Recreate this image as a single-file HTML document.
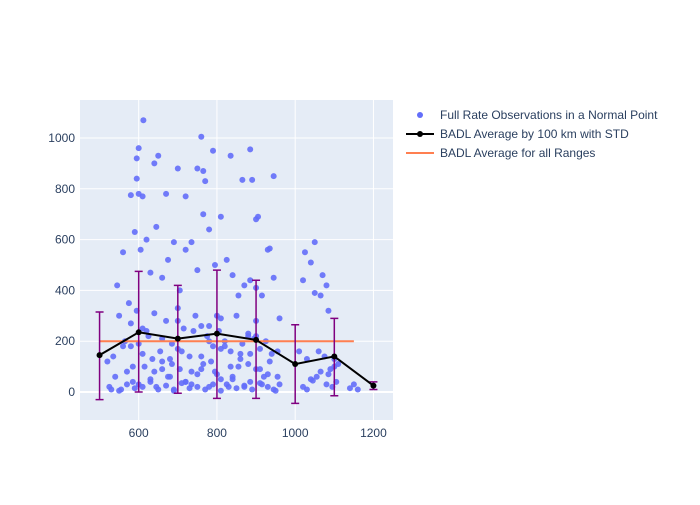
<!DOCTYPE html>
<html><head><meta charset="utf-8"><style>
body{margin:0;background:#fff;font-family:"Liberation Sans",sans-serif}
svg text{font-family:"Liberation Sans",sans-serif;fill:#2a3f5f;font-size:12px}
</style></head><body>
<svg id="chart" width="700" height="500"></svg>
<script>
const avgX=[500,600,700,800,900,1000,1100,1200];
const avgY=[145,235,210,230,205,110,140,25];
const stdLo=[-30,0,-5,-25,-25,-45,-15,10];
const stdHi=[315,475,420,480,440,265,290,40];
const rangeAvg=200;
const rangeX=[500,1150];
const xTicks=[600,800,1000,1200];
const yTicks=[0,200,400,600,800,1000];
const ptsX=[612,600,595,650,640,595,610,580,600,670,700,720,750,760,765,770,790,810,835,865,885,890,900,905,935,945,1025,1050,1040,1070,1080,1085,1050,1065,
545,560,575,590,605,620,630,645,660,675,690,705,720,735,750,765,780,795,810,825,840,855,870,885,900,915,930,945,960,
550,565,580,595,610,625,640,655,670,685,700,715,730,745,760,775,790,805,820,835,850,865,880,895,910,925,940,955,
525,540,555,570,585,600,615,630,645,660,675,690,705,720,735,750,765,780,795,810,825,840,855,870,885,900,915,930,945,960,
520,535,560,585,610,635,660,685,710,735,760,785,810,835,860,885,910,935,955,
530,550,570,590,610,630,650,670,690,710,730,750,770,790,810,830,850,870,890,910,930,950,
1010,1020,1030,1045,1060,1075,1090,1100,1110,1020,1040,1065,1085,1100,1140,1150,1160,1030,1055,1080,1095,1105,
620,660,700,740,780,820,860,900,640,680,720,760,800,840,880,920,600,700,800,900,580,680,780,880];
const ptsY=[1070,960,920,930,900,840,770,775,780,780,880,770,880,1005,870,830,950,690,930,835,955,835,680,690,565,850,550,590,510,460,420,320,390,380,
420,550,350,630,560,600,470,650,450,520,590,400,560,590,480,700,640,500,290,520,460,380,420,440,410,380,560,450,290,
300,200,270,320,250,220,310,160,280,190,170,250,140,300,260,220,180,240,200,160,300,190,230,210,170,200,150,160,
20,60,10,80,40,30,100,50,20,120,60,10,90,40,30,70,110,20,80,50,30,60,100,20,40,90,30,70,10,30,
120,140,180,100,150,130,90,110,160,80,140,120,170,100,130,150,90,120,60,
10,5,30,15,20,40,10,25,5,35,15,20,10,30,5,20,15,25,10,35,20,5,
160,440,130,45,160,140,90,130,110,20,50,80,70,100,15,30,10,10,60,30,20,40,
240,210,280,240,200,180,150,220,80,60,40,90,70,50,110,60,190,330,300,280,180,130,260,220];
const NS='http://www.w3.org/2000/svg';
const svg=document.getElementById('chart');
const L=80,R=393,T=100,B=420;
const xs=v=>L+(v-450)/800*(R-L);
const ys=v=>392-v*0.254;
function mk(t,a,p){const e=document.createElementNS(NS,t);for(const k in a)e.setAttribute(k,a[k]);(p||svg).appendChild(e);return e;}
const bg=mk('rect',{x:L,y:T,width:R-L,height:B-T,fill:'#e5ecf6'});


xTicks.forEach(t=>{const l=mk('line',{x1:xs(t),x2:xs(t),y1:T,y2:B,stroke:'#fff'});


const tx=mk('text',{x:xs(t),y:B+17,'text-anchor':'middle'});tx.textContent=t;

});
yTicks.forEach(t=>{const l=mk('line',{x1:L,x2:R,y1:ys(t),y2:ys(t),stroke:'#fff',
'stroke-width':t===0?2:1});


const tx=mk('text',{x:L-5,y:ys(t)+4,'text-anchor':'end'});tx.textContent=t;

});
ptsX.forEach((x,i)=>{const c=mk('circle',{cx:xs(x),cy:ys(ptsY[i]),r:3,fill:'#636efa',opacity:0.9});

});
const ol=mk('line',{x1:xs(rangeX[0]),x2:xs(rangeX[1]),y1:ys(rangeAvg),y2:ys(rangeAvg),stroke:'#ff7f50','stroke-width':2});


avgX.forEach((x,i)=>{const g=mk('path',{d:`M${xs(x)},${ys(stdLo[i])}V${ys(stdHi[i])}M${xs(x)-4},${ys(stdLo[i])}h8M${xs(x)-4},${ys(stdHi[i])}h8`,stroke:'#800080','stroke-width':1.5,fill:'none'});

});
const pl=mk('polyline',{points:avgX.map((x,i)=>xs(x)+','+ys(avgY[i])).join(' '),fill:'none',stroke:'#000','stroke-width':2});


avgX.forEach((x,i)=>{const c=mk('circle',{cx:xs(x),cy:ys(avgY[i]),r:3,fill:'#000'});

});
const lg=mk('g',{});


const items=[['Full Rate Observations in a Normal Point','pt'],['BADL Average by 100 km with STD','ln'],['BADL Average for all Ranges','or']];
items.forEach((it,i)=>{const y=115+i*19;
if(it[1]==='pt'){mk('circle',{cx:420,cy:y,r:3,fill:'#636efa'},lg);}
else if(it[1]==='ln'){mk('line',{x1:406,x2:434,y1:y,y2:y,stroke:'#000','stroke-width':2},lg);mk('circle',{cx:420,cy:y,r:3,fill:'#000'},lg);}
else{mk('line',{x1:406,x2:434,y1:y,y2:y,stroke:'#ff7f50','stroke-width':2},lg);}
const t=mk('text',{x:440,y:y+4},lg);t.textContent=it[0];

});
</script>
</body></html>
